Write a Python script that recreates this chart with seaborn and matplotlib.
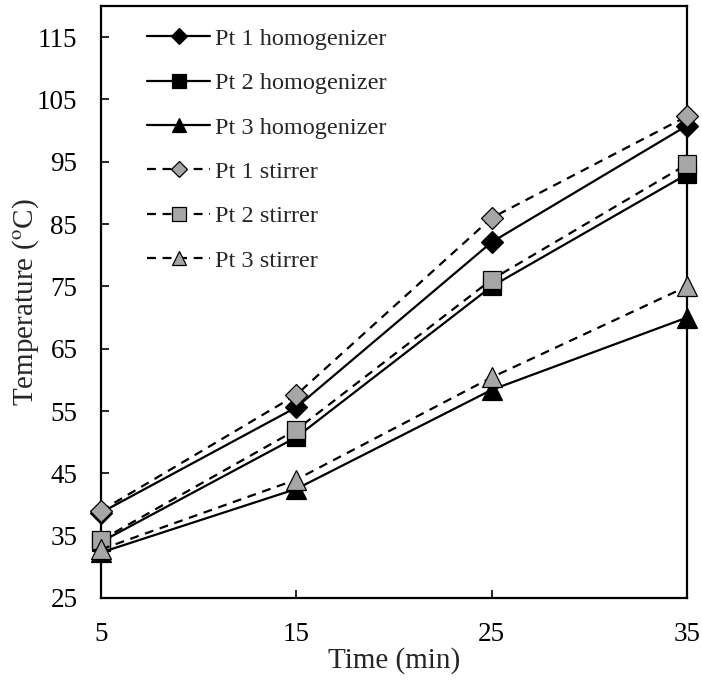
import matplotlib
matplotlib.use("Agg")
import matplotlib.pyplot as plt
import seaborn as sns
import pandas as pd

time_min = [5, 15, 25, 35]
pt1_homogenizer = [38.7, 55.6, 82.1, 100.8]
pt2_homogenizer = [34.0, 50.8, 75.0, 93.0]
pt3_homogenizer = [32.3, 42.5, 58.4, 70.0]
pt1_stirrer = [39.0, 57.6, 86.0, 102.3]
pt2_stirrer = [34.3, 52.0, 76.1, 94.6]
pt3_stirrer = [32.8, 44.0, 60.4, 75.0]
y_ticks = [25, 35, 45, 55, 65, 75, 85, 95, 105, 115]
x_ticks = [5, 15, 25, 35]

sns.set_theme(style="white")
plt.rcParams['font.family'] = ['Liberation Serif', 'DejaVu Serif']
plt.rcParams['mathtext.fontset'] = 'stix'

fig = plt.figure(figsize=(7.02, 6.81), dpi=100)
ax = fig.add_axes([0.1439, 0.1219, 0.8347, 0.8693])

grey = "#A6A6A6"
series = [
    ("Pt 1 homogenizer", pt1_homogenizer, "D", 11, "black", "-"),
    ("Pt 2 homogenizer", pt2_homogenizer, "s", 12.5, "black", "-"),
    ("Pt 3 homogenizer", pt3_homogenizer, "^", 14, "black", "-"),
    ("Pt 1 stirrer", pt1_stirrer, "D", 11, grey, (0, (4, 3))),
    ("Pt 2 stirrer", pt2_stirrer, "s", 12.5, grey, (0, (4, 3))),
    ("Pt 3 stirrer", pt3_stirrer, "^", 14, grey, (0, (4, 3))),
]

for name, vals, mk, ms, fc, ls in series:
    df = pd.DataFrame({"Time": time_min, "Temp": vals})
    sns.lineplot(data=df, x="Time", y="Temp", ax=ax, color="black", lw=1.6,
                 linestyle=ls, marker=mk, markersize=ms, markerfacecolor=fc,
                 markeredgecolor="black", markeredgewidth=0.9, label=name,
                 clip_on=False, zorder=3)

ax.set_xlim(5, 35)
ax.set_ylim(25, 120)
ax.set_xticks(x_ticks)
ax.set_yticks(y_ticks)
ax.tick_params(direction="in", length=6, width=1.2, labelsize=19.5, colors="black",
               left=True, bottom=True, pad=17)
for s in ax.spines.values():
    s.set_visible(True)
    s.set_color("black")
    s.set_linewidth(1.6)
ax.set_xlabel("Time (min)", fontsize=21, labelpad=0)
ax.set_ylabel("Temperature ($^{\\mathrm{o}}$C)", fontsize=21)
ax.yaxis.set_label_coords(-0.102, 0.5)
ax.grid(False)

leg = ax.legend(loc="upper left", bbox_to_anchor=(0.041, 1.0), frameon=False,
                fontsize=17.5, handlelength=2.6, labelspacing=0.92, handletextpad=0.2,
                borderaxespad=0.5, markerscale=0.75)

fig.savefig("out.png", dpi=100)
